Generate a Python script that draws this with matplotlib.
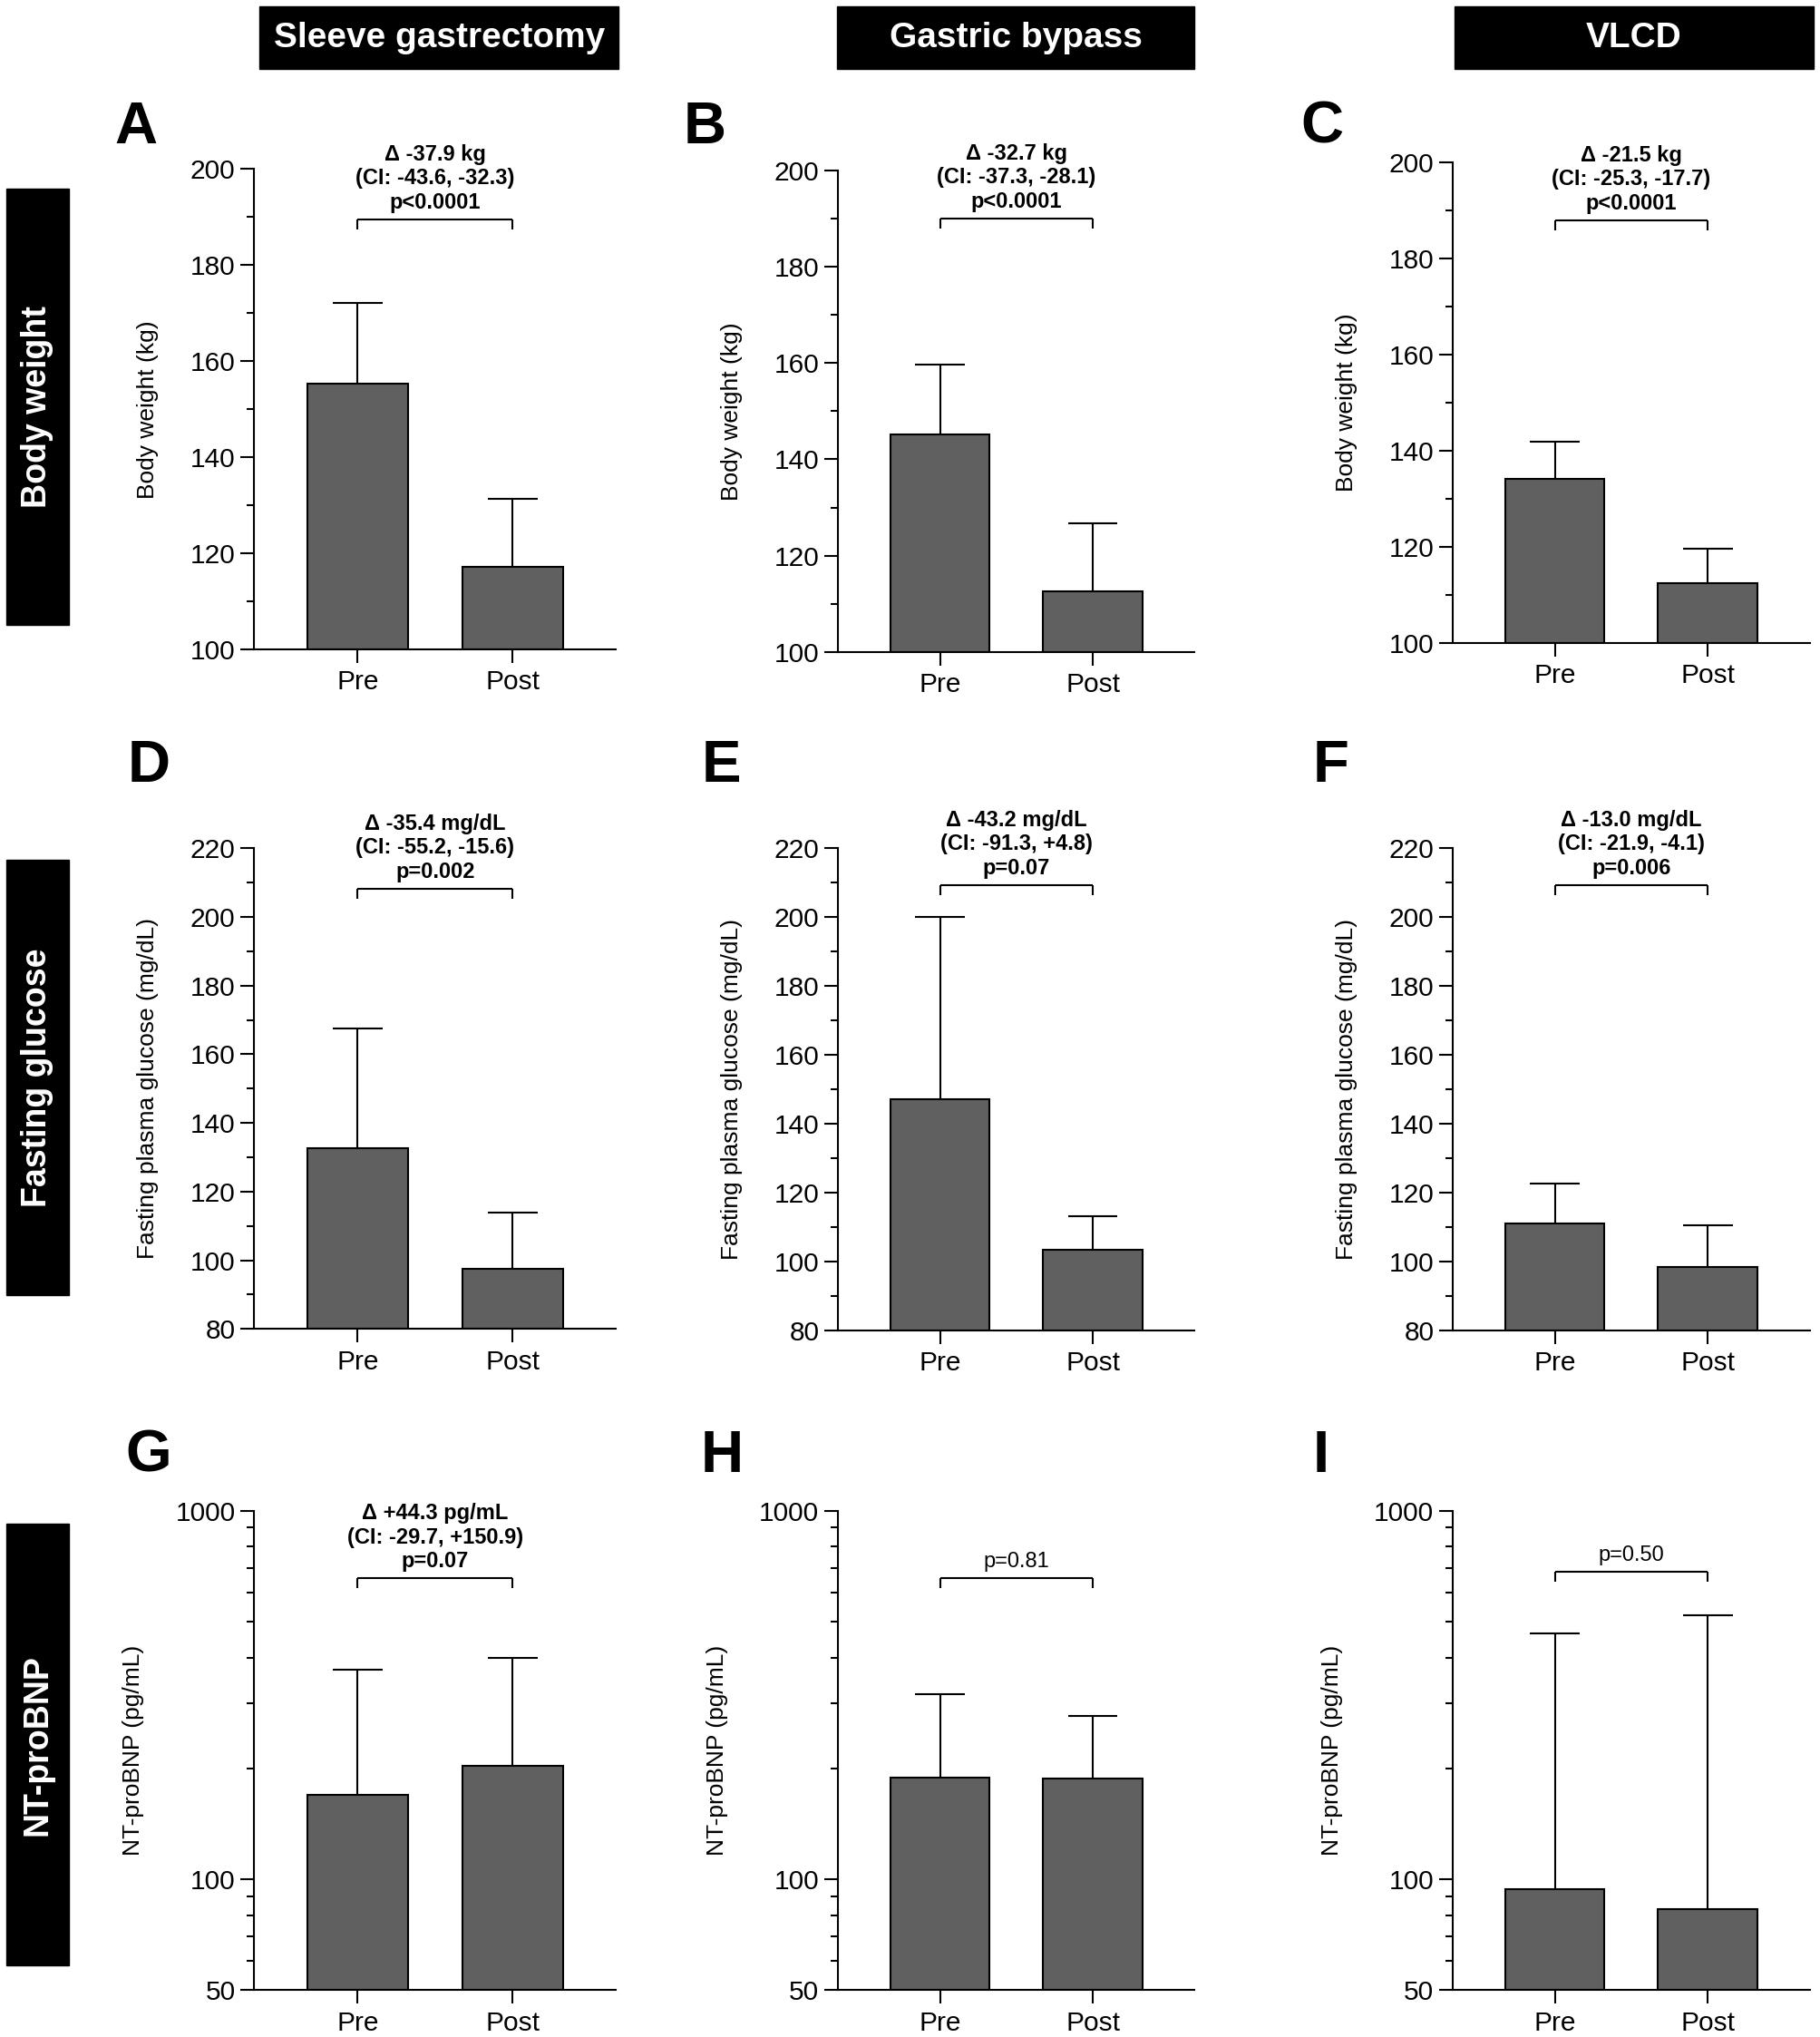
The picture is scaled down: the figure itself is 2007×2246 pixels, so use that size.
import matplotlib
matplotlib.use("Agg")
import matplotlib.pyplot as plt
from matplotlib.ticker import FixedLocator, NullFormatter, FixedFormatter

plt.rcParams["font.family"] = ["Liberation Sans", "DejaVu Sans"]

W, H = 2007, 2246
DPI = 100

# ---- data ----
groups = ["Pre", "Post"]
col_titles = ["Sleeve gastrectomy", "Gastric bypass", "VLCD"]
row_titles = ["Body weight", "Fasting glucose", "NT-proBNP"]
panel_letters = ["A", "B", "C", "D", "E", "F", "G", "H", "I"]
ylabels = ["Body weight (kg)", "Fasting plasma glucose (mg/dL)", "NT-proBNP (pg/mL)"]

weight_mean = [[155.3, 117.3], [145.2, 112.6], [134.1, 112.4]]
weight_upper = [[172.2, 131.3], [159.7, 126.7], [141.9, 119.7]]
glucose_mean = [[132.6, 97.4], [147.0, 103.5], [111.0, 98.3]]
glucose_upper = [[167.6, 113.9], [200.0, 113.1], [122.5, 110.4]]
bnp_mean = [[170, 203], [189, 188], [94, 83]]
bnp_upper = [[370, 399], [318, 277], [464, 522]]

bracket_y = [[189.5, 190.0, 188.0], [208.3, 209.3, 209.3], [656, 656, 683]]
annotations = [
    ["Δ -37.9 kg\n(CI: -43.6, -32.3)\np<0.0001",
     "Δ -32.7 kg\n(CI: -37.3, -28.1)\np<0.0001",
     "Δ -21.5 kg\n(CI: -25.3, -17.7)\np<0.0001"],
    ["Δ -35.4 mg/dL\n(CI: -55.2, -15.6)\np=0.002",
     "Δ -43.2 mg/dL\n(CI: -91.3, +4.8)\np=0.07",
     "Δ -13.0 mg/dL\n(CI: -21.9, -4.1)\np=0.006"],
    ["Δ +44.3 pg/mL\n(CI: -29.7, +150.9)\np=0.07", "p=0.81", "p=0.50"],
]
annot_bold = [[True, True, True], [True, True, True], [True, False, False]]

row_means = [weight_mean, glucose_mean, bnp_mean]
row_uppers = [weight_upper, glucose_upper, bnp_upper]
row_ylim = [(100, 200), (80, 220), (50, 1000)]
row_major = [list(range(100, 201, 20)), list(range(80, 221, 20)), [50, 100, 1000]]
row_minor = [list(range(110, 200, 20)), list(range(90, 220, 20)),
             [60, 70, 80, 90, 200, 300, 400, 500, 600, 700, 800, 900]]

# ---- layout (reference measured on a 1403 x 1568 view) ----
RW, RH = 1403.0, 1568.0
col_left = [196, 646, 1120]
col_right = [475, 921, 1395]
row_top = [[130, 131, 125], [653, 653, 653], [1163, 1163, 1163]]
row_bot = [[500, 502, 495], [1023, 1024, 1024], [1532, 1532, 1532]]
letter_x = [[88, 527, 1003], [98, 541, 1012], [97, 540, 1012]]
letter_base = [110, 602, 1133]
ylabel_off = [-82, -82, -93]

BAR_COLOR = "#606060"
BAR_W = 0.65
CAP_HALF = 0.1625

fig = plt.figure(figsize=(W / DPI, H / DPI), dpi=DPI)

# column headers
hdr_x = [(200, 477), (645, 921), (1121, 1398)]
for (x0, x1), title in zip(hdr_x, col_titles):
    fig.patches.append(plt.Rectangle((x0 / RW, 1 - 53 / RH), (x1 - x0) / RW, 48 / RH,
                                     transform=fig.transFigure, color="black"))
    fig.text((x0 + x1) / 2 / RW, 1 - 29 / RH, title, color="white", fontsize=28,
             fontweight="bold", ha="center", va="center")

# row headers
rhdr_y = [(145, 481), (662, 997), (1173, 1513)]
for (y0, y1), title in zip(rhdr_y, row_titles):
    fig.patches.append(plt.Rectangle((5 / RW, 1 - y1 / RH), 48 / RW, (y1 - y0) / RH,
                                     transform=fig.transFigure, color="black"))
    fig.text(29 / RW, 1 - (y0 + y1) / 2 / RH, title, color="white", fontsize=27,
             fontweight="bold", ha="center", va="center", rotation=90)

k = 0
for r in range(3):
    for c in range(3):
        left = col_left[c] / RW
        width = (col_right[c] - col_left[c]) / RW
        bottom = 1 - row_bot[r][c] / RH
        height = (row_bot[r][c] - row_top[r][c]) / RH
        ax = fig.add_axes([left, bottom, width, height])

        means = row_means[r][c]
        uppers = row_uppers[r][c]
        xs = [0, 1]
        ylo = row_ylim[r][0]
        ax.bar(xs, [m - ylo for m in means], bottom=ylo, width=BAR_W, color=BAR_COLOR,
               edgecolor="black", linewidth=1.5, zorder=2)
        ax.vlines(xs, means, uppers, color="black", linewidth=1.5, zorder=3)
        ax.hlines(uppers, [x - CAP_HALF for x in xs], [x + CAP_HALF for x in xs],
                  color="black", linewidth=1.5, zorder=3)

        if r == 2:
            ax.set_yscale("log")
        ax.set_ylim(*row_ylim[r])
        ax.set_xlim(-0.667, 1.667)
        ax.yaxis.set_major_locator(FixedLocator(row_major[r]))
        ax.yaxis.set_major_formatter(FixedFormatter([str(v) for v in row_major[r]]))
        ax.yaxis.set_minor_locator(FixedLocator(row_minor[r]))
        ax.yaxis.set_minor_formatter(NullFormatter())
        ax.set_xticks(xs)
        ax.set_xticklabels(groups)

        for s in ["top", "right"]:
            ax.spines[s].set_visible(False)
        for s in ["left", "bottom"]:
            ax.spines[s].set_linewidth(1.5)
        ax.tick_params(axis="both", which="major", direction="out", length=11,
                       width=1.5, labelsize=21.5, pad=4)
        ax.tick_params(axis="x", which="major", pad=5)
        ax.tick_params(axis="y", which="minor", direction="out", length=6, width=1.5)
        ax.tick_params(axis="x", which="minor", length=0)

        ax.set_ylabel(ylabels[r], fontsize=19, va="center")
        ax.yaxis.set_label_coords(ylabel_off[r] / (col_right[c] - col_left[c]), 0.5)

        # significance bracket
        yb = bracket_y[r][c]
        ax.plot([0, 1], [yb, yb], color="black", linewidth=1.5, zorder=3,
                solid_capstyle="butt")
        y_disp = ax.transData.transform((0, yb))[1]
        y_low = ax.transData.inverted().transform((0, y_disp - 11))[1]
        for xb in xs:
            ax.plot([xb, xb], [yb, y_low], color="black", linewidth=1.5, zorder=3,
                    solid_capstyle="butt")
        ax.annotate(annotations[r][c], xy=(0.5, yb), xytext=(0, 5),
                    textcoords="offset points", ha="center", va="bottom",
                    fontsize=17, linespacing=1.2,
                    fontweight="bold" if annot_bold[r][c] else "normal")

        fig.text(letter_x[r][c] / RW, 1 - letter_base[r] / RH, panel_letters[k],
                 fontsize=47, fontweight="bold", ha="left", va="baseline")
        k += 1

fig.savefig("out.png", dpi=DPI, facecolor="white")
